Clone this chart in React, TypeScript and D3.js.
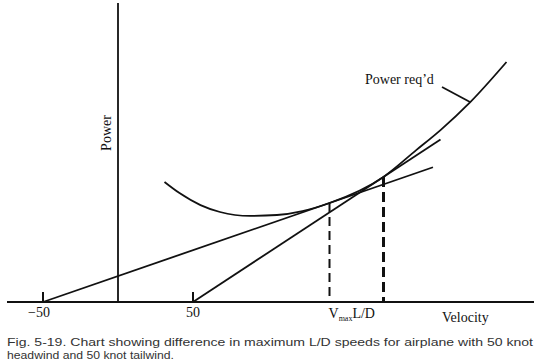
import React, { useEffect } from 'react';
import * as d3 from 'd3';

// Power required curve (velocity in knots, power in arbitrary units)
const curveVelocity = [31, 41, 55, 68, 88, 106, 123, 141, 177, 199, 215, 235, 259];
const curvePower = [40, 36.3, 32.3, 30, 28.7, 29, 30.3, 33, 41.7, 50.7, 57.3, 66.7, 80];

// Tangent lines drawn from the wind-shifted origins
const tangentStart = [-50, 50];
const tangentTouch = [141, 177];
const tangentTouchPower = [33, 41.7];
const tangentEnd = [210, 215];

const tickValues = [-50, 50];
const tickLabels = ['\u221250', '50'];

const captionLines = [
  'Fig. 5-19. Chart showing difference in maximum L/D speeds for airplane with 50 knot',
  'headwind and 50 knot tailwind.',
];

const W = 540;
const H = 363;

export default function App() {
  useEffect(() => {
    document.body.style.margin = '0';
  }, []);

  const x = d3.scaleLinear().domain([-50, 50]).range([43, 193]);
  const y = d3.scaleLinear().domain([0, 100]).range([302, 2]);

  const pts = curveVelocity.map((v, i) => [v, curvePower[i]] as [number, number]);
  const curvePath = d3.line<[number, number]>()
    .x(d => x(d[0]))
    .y(d => y(d[1]))
    .curve(d3.curveMonotoneX)(pts);

  const lines = tangentStart.map((v0, i) => {
    const slope = tangentTouchPower[i] / (tangentTouch[i] - v0);
    return {
      x1: x(v0), y1: y(0),
      x2: x(tangentEnd[i]), y2: y(slope * (tangentEnd[i] - v0)),
    };
  });

  const serif = '"Liberation Serif", "DejaVu Serif", serif';
  const sans = '"Liberation Sans", Arial, sans-serif';

  return (
    <svg width={W} height={H} style={{ display: 'block', background: '#fff' }}>
      {/* axes */}
      <line x1={7} x2={534} y1={y(0)} y2={y(0)} stroke="#111" strokeWidth={2} />
      <line x1={x(0)} x2={x(0)} y1={3} y2={y(0)} stroke="#111" strokeWidth={1.8} />
      {tickValues.map((t, i) => (
        <g key={t}>
          <line x1={x(t)} x2={x(t)} y1={y(0) - 10} y2={y(0)} stroke="#111" strokeWidth={2} />
          <text x={x(t) + (i === 0 ? -4 : 0)} y={317} textAnchor="middle" fontFamily={serif} fontSize={14} fill="#111">
            {tickLabels[i]}
          </text>
        </g>
      ))}

      {/* power required curve */}
      <path d={curvePath || ''} fill="none" stroke="#111" strokeWidth={1.8} />

      {/* tangent lines */}
      {lines.map((l, i) => (
        <line key={i} x1={l.x1} y1={l.y1} x2={l.x2} y2={l.y2} stroke="#111" strokeWidth={1.8} />
      ))}

      {/* dashed drop lines */}
      {tangentTouch.map((v, i) => (
        <line key={v} x1={x(v)} x2={x(v)} y1={y(tangentTouchPower[i])} y2={y(0)}
          stroke="#111" strokeWidth={i === 0 ? 2 : 3} strokeDasharray={i === 0 ? '9,5' : '10,5'} />
      ))}

      {/* labels */}
      <text transform={`translate(111,133) rotate(-90)`} textAnchor="middle" fontFamily={serif} fontSize={14} fill="#111">Power</text>
      <text x={365} y={84} fontFamily={serif} fontSize={14} fill="#111">Power req{'\u2019'}d</text>
      <line x1={442} y1={87} x2={470} y2={102} stroke="#111" strokeWidth={1.8} />

      <text x={x(tangentTouch[0]) - 1} y={318} fontFamily={serif} fontSize={14} fill="#111">
        <tspan>V</tspan>
        <tspan fontSize={8} dy={3}>max</tspan>
        <tspan dy={-3}>L/D</tspan>
      </text>
      <text x={442} y={322} fontFamily={serif} fontSize={14} fill="#111">Velocity</text>

      {captionLines.map((c, i) => (
        <text key={i} x={7} y={346 + i * 13} fontFamily={sans} fontSize={11.5} fill="#333"
          textLength={i === 0 ? 526 : 167} lengthAdjust="spacingAndGlyphs">{c}</text>
      ))}
    </svg>
  );
}
